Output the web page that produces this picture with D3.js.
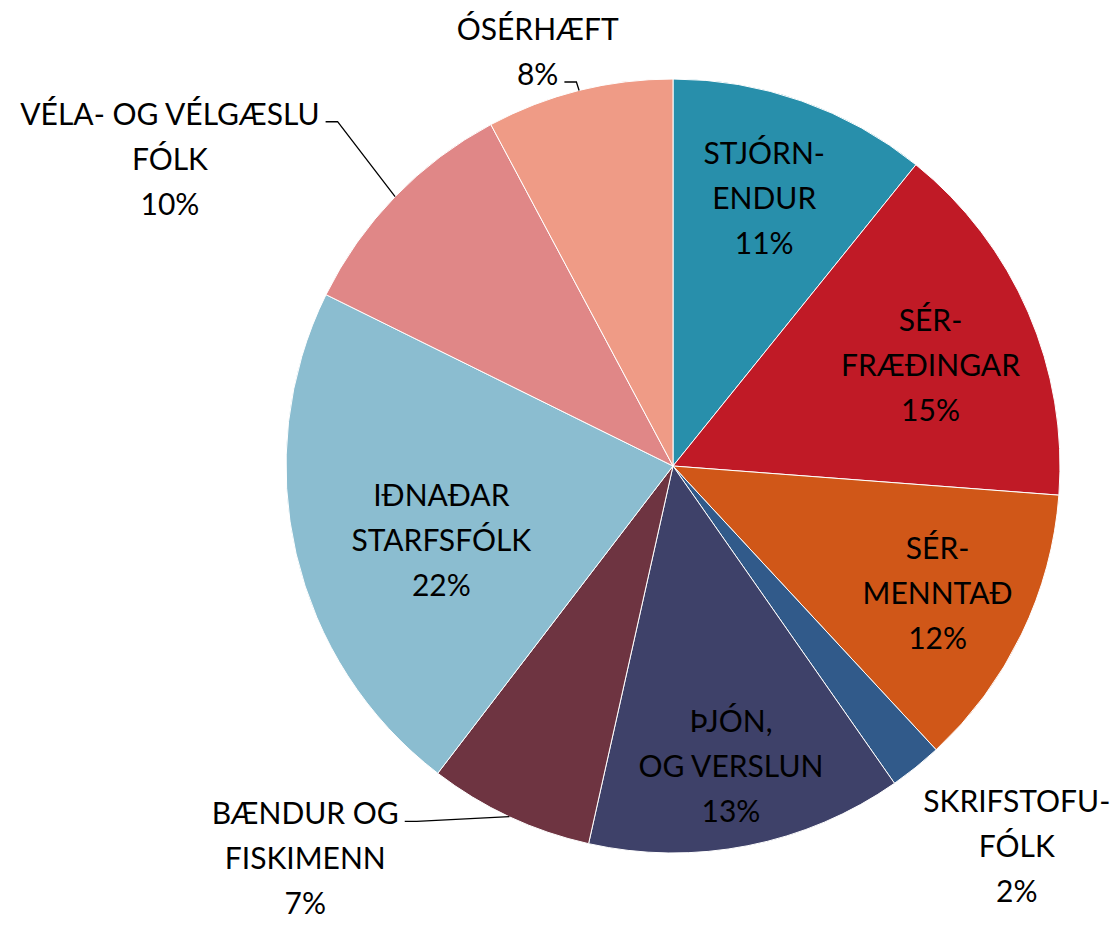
<!DOCTYPE html>
<html>
<head>
<meta charset="utf-8">
<script src="https://cdn.jsdelivr.net/npm/d3@7"></script>
<style>
  html, body { margin: 0; padding: 0; background: #fff; }
  svg text { font-family: Lato, "Open Sans", sans-serif; font-size: 30px; fill: #000; }
</style>
</head>
<body>
<svg id="chart"></svg>
<script>
// categories, clockwise from 12 o'clock
const categories = ['STJÓRNENDUR', 'SÉRFRÆÐINGAR', 'SÉRMENNTAÐ', 'SKRIFSTOFUFÓLK', 'ÞJÓN, OG VERSLUN',
  'BÆNDUR OG FISKIMENN', 'IÐNAÐARSTARFSFÓLK', 'VÉLA- OG VÉLGÆSLUFÓLK', 'ÓSÉRHÆFT'];
const labelLines = [['STJÓRN-', 'ENDUR'], ['SÉR-', 'FRÆÐINGAR'], ['SÉR-', 'MENNTAÐ'], ['SKRIFSTOFU-', 'FÓLK'],
  ['ÞJÓN,', 'OG VERSLUN'], ['BÆNDUR OG', 'FISKIMENN'], ['IÐNAÐAR', 'STARFSFÓLK'], ['VÉLA- OG VÉLGÆSLU', 'FÓLK'], ['ÓSÉRHÆFT']];
const shares = [10.8, 15.4, 11.9, 2.2, 13.2, 6.9, 21.9, 9.9, 7.8];
const colors = ['#288fab', '#c01a26', '#d05718', '#315a8a', '#3e4169', '#6e3441', '#8bbdd0', '#e08787', '#ef9b86'];

const width = 1119;
const height = 927;
const cx = 673;
const cy = 466;
const radius = 387;
const lineGap = 45;

// label placement: radius from centre and angle shift (deg) from slice middle,
// leader = index of text line the leader line starts from
const labelPlace = [
  { r: 284, da: -0.7 },
  { r: 277, da: 1.8 },
  { r: 293, da: -0.3 },
  { r: 512, da: -3.3 },
  { r: 305, da: 0.2 },
  { r: 537, da: 18.2, leader: 0 },
  { r: 243, da: -4.4 },
  { r: 590, da: -12.6, leader: 0 },
  { r: 437, da: -4, leader: 1 }
];

const svg = d3.select('#chart')
  .attr('width', width)
  .attr('height', height);

const g = svg.append('g')
  .attr('transform', `translate(${cx},${cy})`);

const pie = d3.pie().sort(null).value(d => d);
const arcs = pie(shares);

const arc = d3.arc().innerRadius(0).outerRadius(radius);

g.selectAll('.slice')
  .data(arcs)
  .enter().append('path')
  .attr('class', 'slice')
  .attr('d', arc)
  .attr('fill', (d, i) => colors[i])
  .attr('stroke', '#fff')
  .attr('stroke-width', 1);

const polar = (r, a) => [r * Math.sin(a), -r * Math.cos(a)];

arcs.forEach((d, i) => {
  const p = labelPlace[i];
  const mid = (d.startAngle + d.endAngle) / 2;
  const [lx, ly] = polar(p.r, mid + p.da * Math.PI / 180);
  const lines = labelLines[i].concat([Math.round(d.data) + '%']);
  const top = ly - (lines.length - 1) * lineGap / 2;

  const label = g.append('g').attr('class', 'label');
  const texts = lines.map((t, k) => label.append('text')
    .attr('x', lx)
    .attr('y', top + k * lineGap)
    .attr('text-anchor', 'middle')
    .attr('dominant-baseline', 'central')
    .text(t));

  if (p.leader !== undefined) {
    const k = p.leader;
    const w = texts[k].node().getComputedTextLength();
    const sx = lx + w / 2 + 6;
    const sy = top + k * lineGap + 9;
    const [ex, ey] = polar(radius, mid);
    g.append('path')
      .attr('d', d3.line()([[sx, sy], [sx + 12, sy], [ex, ey]]))
      .attr('fill', 'none')
      .attr('stroke', '#000')
      .attr('stroke-width', 1.3);
  }
});
</script>
</body>
</html>
